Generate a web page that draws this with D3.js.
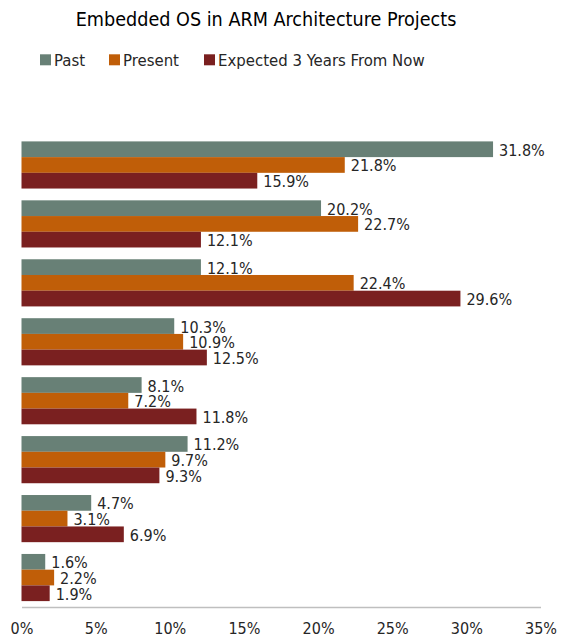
<!DOCTYPE html>
<html>
<head>
<meta charset="utf-8">
<script src="https://cdn.jsdelivr.net/npm/d3@7"></script>
<style>
  html, body { margin: 0; padding: 0; background: #ffffff; }
  svg { display: block; }
  text { font-family: 'Liberation Sans Narrow', 'DejaVu Sans Condensed', 'Liberation Sans', sans-serif; fill: #262626; }
</style>
</head>
<body>
<svg id="chart" width="566" height="638"></svg>
<script>
// ---- data ----
const title = "Embedded OS in ARM Architecture Projects";
const categories = ["OS 1", "OS 2", "OS 3", "OS 4", "OS 5", "OS 6", "OS 7", "OS 8"];
const seriesNames = ["Past", "Present", "Expected 3 Years From Now"];
const past     = [31.8, 20.2, 12.1, 10.3, 8.1, 11.2, 4.7, 1.6];
const present  = [21.8, 22.7, 22.4, 10.9, 7.2,  9.7, 3.1, 2.2];
const expected = [15.9, 12.1, 29.6, 12.5, 11.8, 9.3, 6.9, 1.9];
const xTicks = [0, 5, 10, 15, 20, 25, 30, 35];
const colors = ["#688076", "#c05e08", "#7a2020"];

const seriesValues = [past, present, expected];

const svg = d3.select("#chart");

// scales
const x = d3.scaleLinear().domain([0, 35]).range([21.5, 540.5]);
const y = d3.scaleBand().domain(categories).range([135.5, 607]).paddingInner(0.2).paddingOuter(0.1);
const ySub = d3.scaleBand().domain(seriesNames).range([0, y.bandwidth()]);

// title
svg.append("text")
  .attr("x", 266).attr("y", 26)
  .attr("text-anchor", "middle")
  .style("font-size", "19.6px")
  .style("fill", "#000")
  .text(title);

// legend
const legendX = [40, 109, 204];
const legend = svg.append("g");
seriesNames.forEach((name, i) => {
  legend.append("rect")
    .attr("x", legendX[i]).attr("y", 54.3)
    .attr("width", 11).attr("height", 11)
    .attr("fill", colors[i]);
  legend.append("text")
    .attr("x", legendX[i] + 14).attr("y", 65.5)
    .style("font-size", "16.6px")
    .text(name);
});

// bars
const data = [];
categories.forEach((c, ci) => {
  seriesNames.forEach((s, si) => {
    data.push({ cat: c, series: s, si: si, value: seriesValues[si][ci] });
  });
});

const bars = svg.append("g");
bars.selectAll("rect")
  .data(data)
  .join("rect")
  .attr("x", x(0))
  .attr("y", d => y(d.cat) + ySub(d.series))
  .attr("width", d => x(d.value) - x(0))
  .attr("height", ySub.bandwidth())
  .attr("fill", d => colors[d.si]);

bars.selectAll("text")
  .data(data)
  .join("text")
  .attr("x", d => x(d.value) + 6)
  .attr("y", d => y(d.cat) + ySub(d.series) + ySub.bandwidth() / 2 + 6.5)
  .style("font-size", "16px")
  .text(d => d.value.toFixed(1) + "%");

// axis
const axis = d3.axisBottom(x)
  .tickValues(xTicks)
  .tickFormat(d => d + "%")
  .tickSize(0)
  .tickSizeOuter(0)
  .tickPadding(16);

const gx = svg.append("g")
  .attr("transform", "translate(0,607)")
  .call(axis);
gx.select(".domain").attr("stroke", "#bfbfbf").attr("stroke-width", 1.5);
gx.selectAll("text")
  .style("font-size", "16px")
  .style("font-family", "'Liberation Sans Narrow', 'DejaVu Sans Condensed', 'Liberation Sans', sans-serif")
  .attr("fill", "#262626");
</script>
</body>
</html>
